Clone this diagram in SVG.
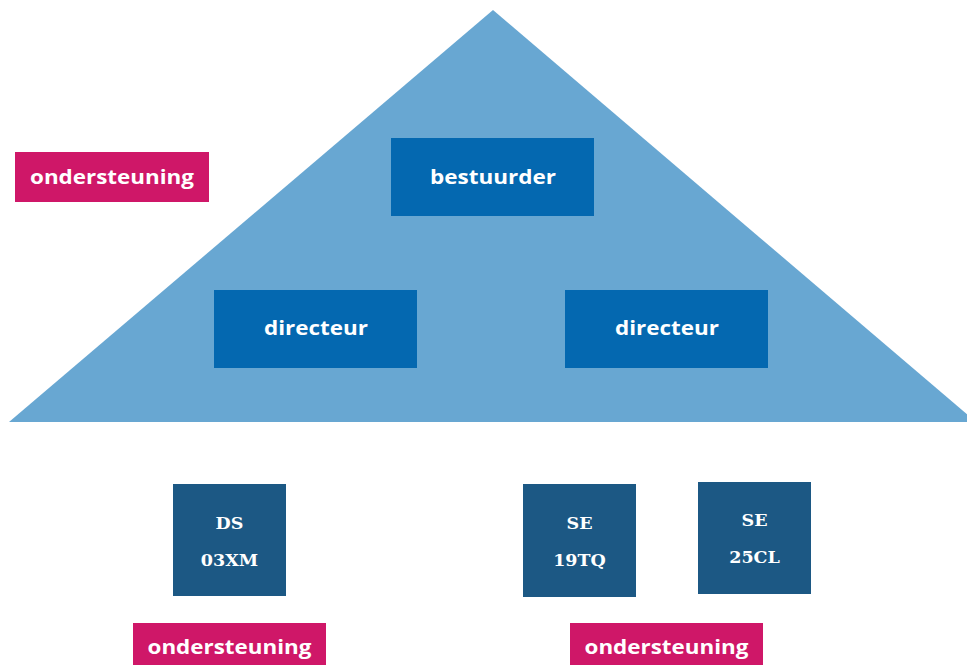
<svg xmlns="http://www.w3.org/2000/svg" width="967" height="665" viewBox="0 0 967 665">
<style>
.tri{fill:#68a7d2}
.box{fill:#0468b0}
.ps{fill:#1c5884}
.sup{fill:#cf1768}
.lbl{font-family:"Open Sans","Liberation Sans",sans-serif;font-weight:bold;font-size:20px;fill:#ffffff;text-anchor:middle}
.code{font-family:"DejaVu Serif","Liberation Serif",serif;font-weight:bold;font-size:17.5px;fill:#ffffff;text-anchor:middle}
</style>
<rect width="967" height="665" fill="#ffffff"/>
<polygon class="tri" points="493,10 976,422 9,422"/>
<g id="connectors"></g>
<g id="ondersteuning-top"><rect class="sup" x="15" y="152" width="194" height="50"/><text class="lbl" x="112" y="184" textLength="164" lengthAdjust="spacingAndGlyphs">ondersteuning</text></g>
<g id="bestuurder"><rect class="box" x="391" y="138" width="203" height="78"/><text class="lbl" x="493" y="184" textLength="126" lengthAdjust="spacingAndGlyphs">bestuurder</text></g>
<g id="directeur-left"><rect class="box" x="214" y="290" width="203" height="78"/><text class="lbl" x="316" y="335" textLength="104" lengthAdjust="spacingAndGlyphs">directeur</text></g>
<g id="directeur-right"><rect class="box" x="565" y="290" width="203" height="78"/><text class="lbl" x="667" y="335" textLength="104" lengthAdjust="spacingAndGlyphs">directeur</text></g>
<g id="ds-03xm"><rect class="ps" x="173" y="484" width="113" height="112"/><text class="code" x="229.5" y="529">DS</text><text class="code" x="229.5" y="566">03XM</text></g>
<g id="se-19tq"><rect class="ps" x="523" y="484" width="113" height="113"/><text class="code" x="579.5" y="529">SE</text><text class="code" x="579.5" y="566">19TQ</text></g>
<g id="se-25cl"><rect class="ps" x="698" y="482" width="113" height="112"/><text class="code" x="754.5" y="526">SE</text><text class="code" x="754.5" y="563">25CL</text></g>
<g id="ondersteuning-left"><rect class="sup" x="133" y="623" width="193" height="50"/><text class="lbl" x="229.5" y="654" textLength="164" lengthAdjust="spacingAndGlyphs">ondersteuning</text></g>
<g id="ondersteuning-right"><rect class="sup" x="570" y="623" width="193" height="50"/><text class="lbl" x="666.5" y="654" textLength="164" lengthAdjust="spacingAndGlyphs">ondersteuning</text></g>
</svg>
